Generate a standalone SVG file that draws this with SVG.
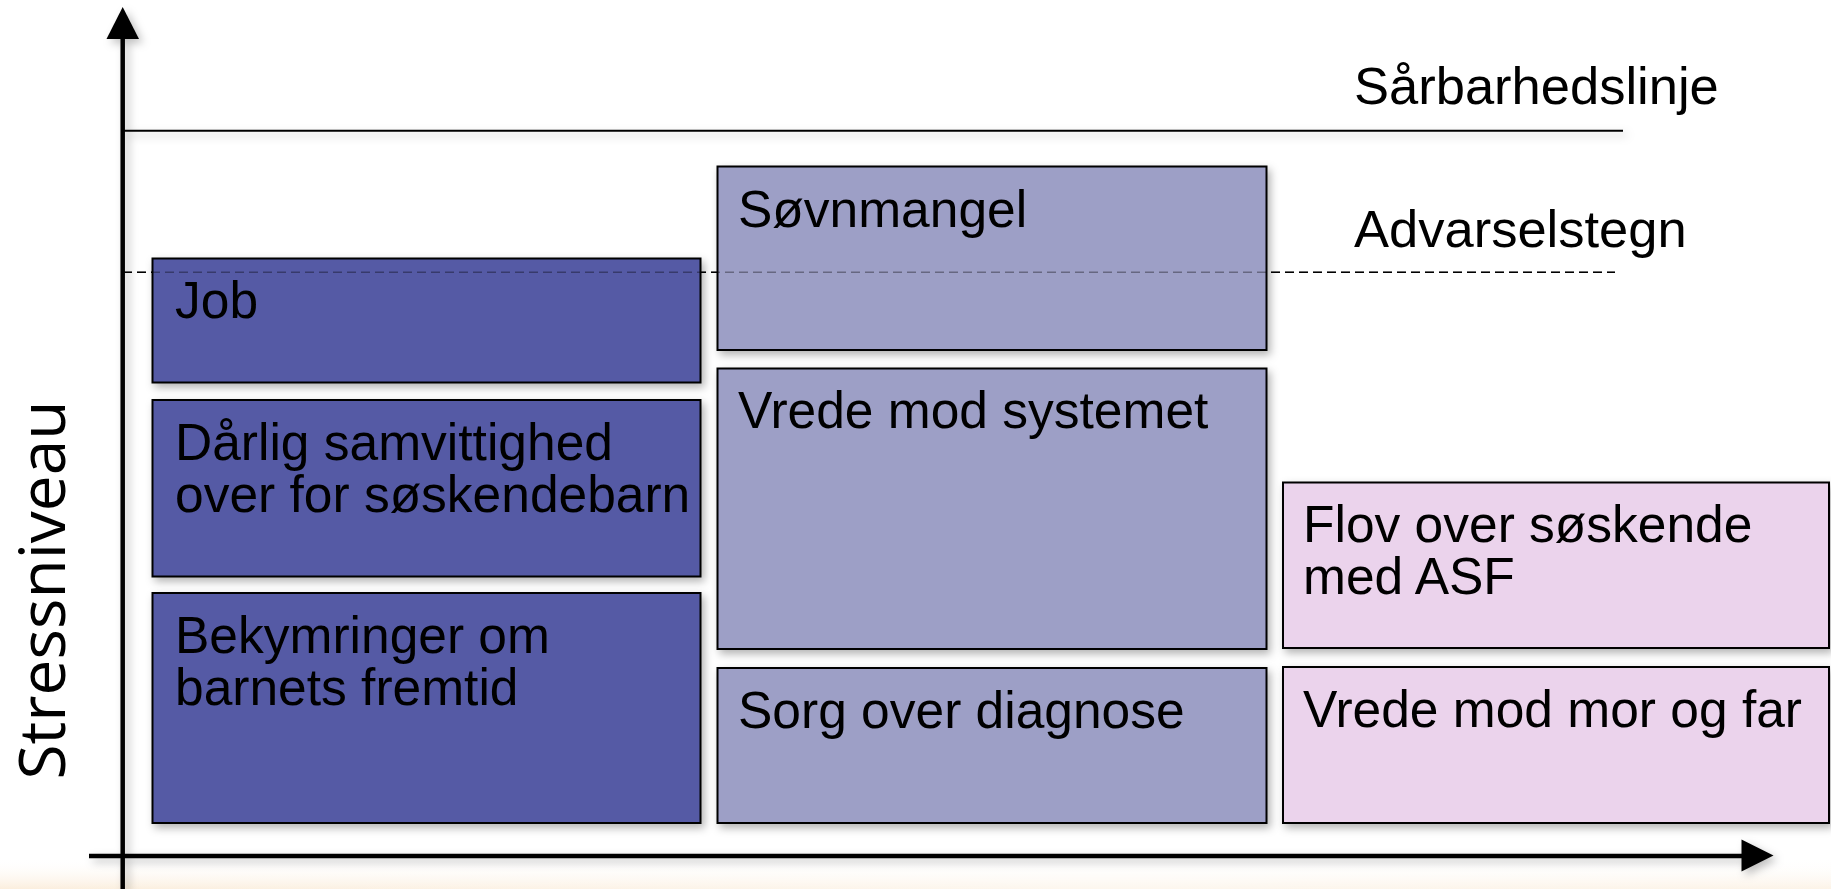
<svg xmlns="http://www.w3.org/2000/svg" width="1831" height="889" viewBox="0 0 1831 889">
  <defs>
    <filter id="shadow" x="-10%" y="-10%" width="120%" height="130%">
      <feDropShadow dx="3" dy="4" stdDeviation="4" flood-color="#000" flood-opacity="0.3"/>
    </filter>
    <filter id="lshadow" x="-5%" y="-50%" width="110%" height="200%">
      <feDropShadow dx="4" dy="4" stdDeviation="4" flood-color="#000" flood-opacity="0.25"/>
    </filter>
    <linearGradient id="floor" x1="0" y1="0" x2="0" y2="1">
      <stop offset="0" stop-color="#ffffff" stop-opacity="0"/>
      <stop offset="1" stop-color="#fbeedd" stop-opacity="1"/>
    </linearGradient>
    <linearGradient id="floorfade" x1="0" y1="0" x2="1" y2="0">
      <stop offset="0" stop-color="#ffffff" stop-opacity="0"/>
      <stop offset="0.6" stop-color="#ffffff" stop-opacity="0.5"/>
      <stop offset="1" stop-color="#ffffff" stop-opacity="0.3"/>
    </linearGradient>
  </defs>
  <style>
    .box { stroke: #000; stroke-width: 2; }
    .dark { fill: #545aa5; }
    .mid { fill: #9d9fc6; }
    .pink { fill: #ebd3ec; }
    .lbl { font-family: "Liberation Sans", Arial, sans-serif; font-size: 51.5px; fill: #000; }
    .side { font-family: "Liberation Sans", Arial, sans-serif; font-size: 52.5px; fill: #000; }
    .axis { stroke: #000; stroke-width: 4.5; fill: none; }
    .dash { stroke: #000; stroke-width: 1.6; stroke-dasharray: 9 5; fill: none; }
  </style>
  <rect x="0" y="0" width="1831" height="889" fill="#ffffff"/>
  <rect x="0" y="858" width="1831" height="31" fill="url(#floor)"/>
  <rect x="0" y="858" width="1831" height="31" fill="url(#floorfade)"/>

  <g id="connectors">
    <g filter="url(#lshadow)">
      <line class="axis" x1="122.7" y1="36" x2="122.7" y2="889"/>
      <polygon points="122.7,7 139,39 106.5,39" fill="#000"/>
      <line class="axis" x1="89" y1="856" x2="1745" y2="856"/>
      <polygon points="1773.5,855.5 1741.5,839.5 1741.5,871.5" fill="#000"/>
      <line x1="123" y1="130.8" x2="1623" y2="130.8" stroke="#000" stroke-width="2"/>
    </g>
    <line id="advarsel-line" class="dash" x1="123" y1="272.3" x2="1615" y2="272.3"/>
  </g>

  <g id="label-sarbarhed">
    <text class="side" x="1354" y="104">Sårbarhedslinje</text>
  </g>
  <g id="label-advarsel">
    <text class="side" x="1354" y="247">Advarselstegn</text>
  </g>
  <g id="label-stress">
    <text x="65" y="590" transform="rotate(-90 65 590)" text-anchor="middle" font-family="'Open Sans', 'Noto Sans', sans-serif" font-size="64" fill="#000">Stressniveau</text>
  </g>

  <g id="node-job" filter="url(#shadow)">
    <rect class="box dark" x="152.5" y="258.5" width="548" height="124"/>
    <text class="lbl" x="175" y="318">Job</text>
  </g>
  <g id="node-darlig" filter="url(#shadow)">
    <rect class="box dark" x="152.5" y="400" width="548" height="176.5"/>
    <text class="lbl" x="175" y="460">Dårlig samvittighed<tspan x="175" dy="52">over for søskendebarn</tspan></text>
  </g>
  <g id="node-bekymringer" filter="url(#shadow)">
    <rect class="box dark" x="152.5" y="593" width="548" height="230"/>
    <text class="lbl" x="175" y="653">Bekymringer om<tspan x="175" dy="52">barnets fremtid</tspan></text>
  </g>
  <g id="node-sovnmangel" filter="url(#shadow)">
    <rect class="box mid" x="717.5" y="166.5" width="549" height="183.5"/>
    <text class="lbl" x="738" y="227">Søvnmangel</text>
  </g>
  <g id="node-vrede-system" filter="url(#shadow)">
    <rect class="box mid" x="717.5" y="368.5" width="549" height="280.5"/>
    <text class="lbl" x="738" y="428">Vrede mod systemet</text>
  </g>
  <g id="node-sorg" filter="url(#shadow)">
    <rect class="box mid" x="717.5" y="668" width="549" height="155"/>
    <text class="lbl" x="738" y="728">Sorg over diagnose</text>
  </g>
  <g id="node-flov" filter="url(#shadow)">
    <rect class="box pink" x="1283" y="482.5" width="546" height="165.5"/>
    <text class="lbl" x="1303" y="542">Flov over søskende<tspan x="1303" dy="52">med ASF</tspan></text>
  </g>
  <g id="node-vrede-mor" filter="url(#shadow)">
    <rect class="box pink" x="1283" y="667" width="546" height="156"/>
    <text class="lbl" x="1303" y="727">Vrede mod mor og far</text>
  </g>

  <line id="advarsel-line-over" class="dash" x1="123" y1="272.3" x2="1615" y2="272.3" stroke-opacity="0.35"/>
</svg>
